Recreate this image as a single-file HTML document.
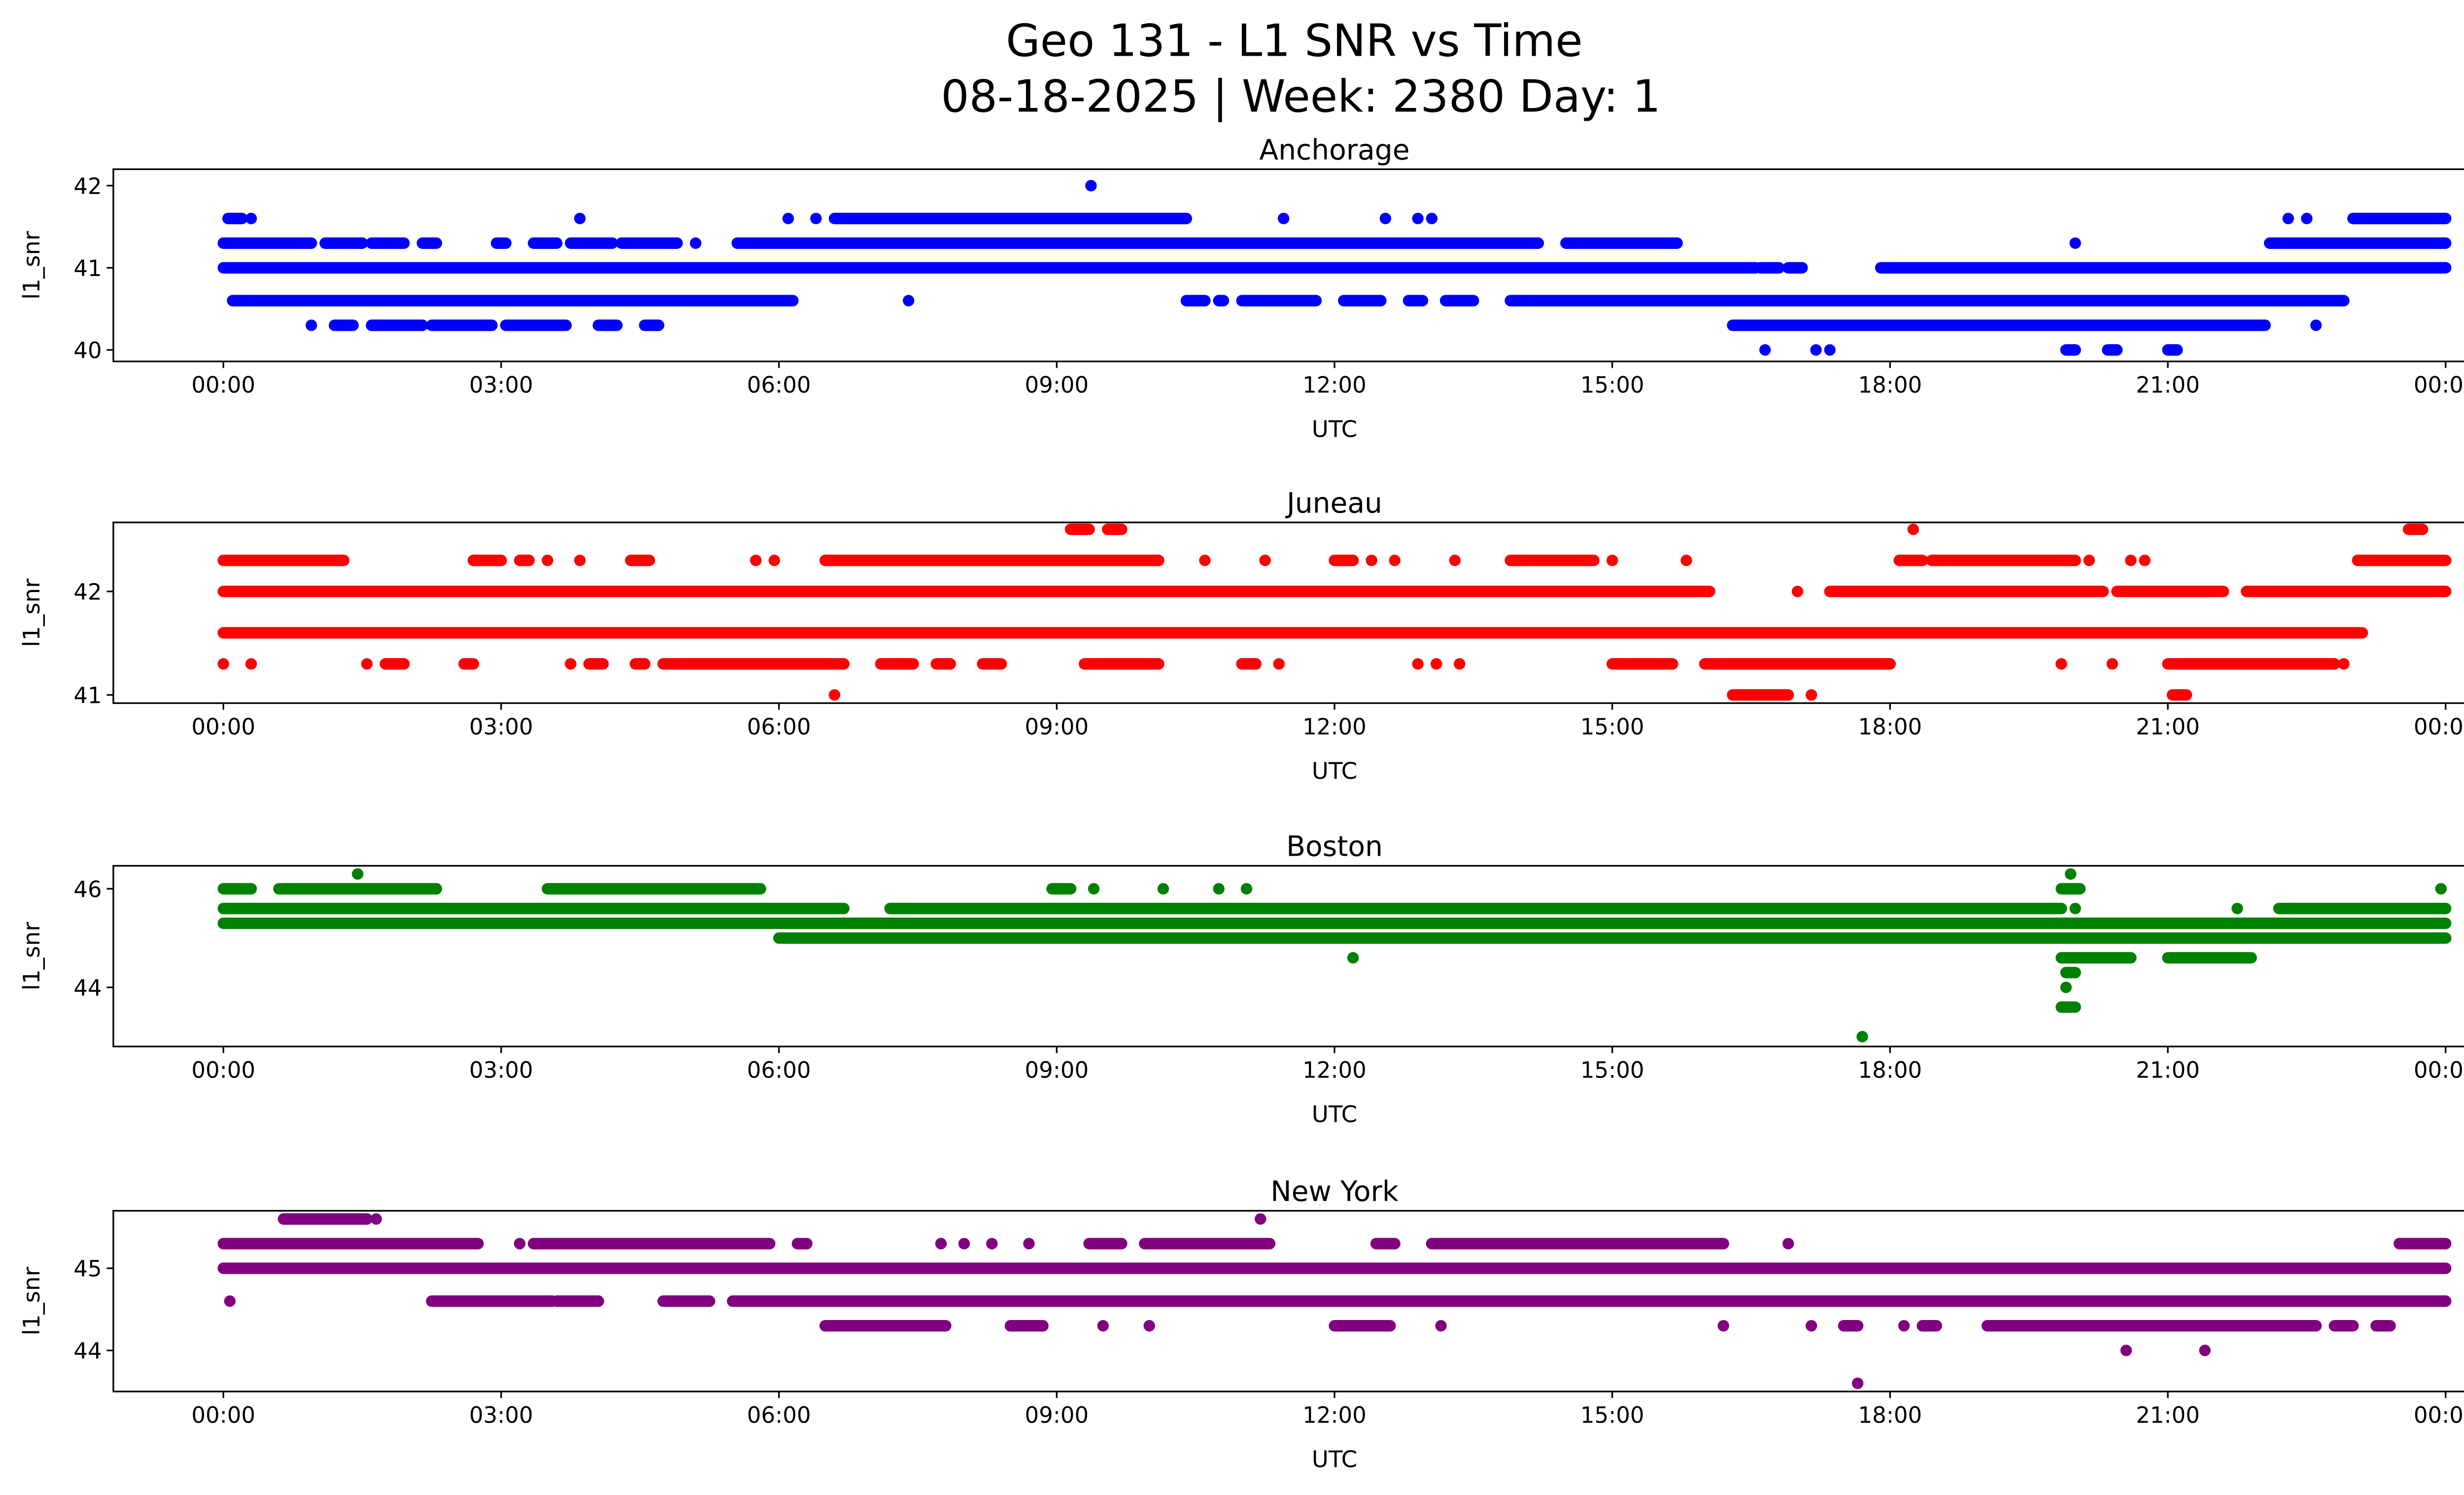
<!DOCTYPE html>
<html><head><meta charset="utf-8"><style>
html,body{margin:0;padding:0;background:#fff;width:5226px;height:3033px;overflow:hidden;}
svg{display:block;font-family:"DejaVu Sans","Liberation Sans",sans-serif;width:5226px;height:3033px;}
</style></head><body>
<svg id="fig" width="5226" height="3033" viewBox="0 0 1568 910" preserveAspectRatio="none" xmlns="http://www.w3.org/2000/svg">
<rect width="1568" height="910" fill="#fff"/>
<text x="788" y="34" font-size="27" text-anchor="middle">Geo 131 - L1 SNR vs Time</text>
<text x="792" y="68" font-size="27" text-anchor="middle">08-18-2025 | Week: 2380 Day: 1</text>
<g id="plots"></g>
</svg>
<script>
// Runs of dense samples: [startHour, endHour, snr]
const anchorageRuns = [
[0,16.55,41.0],[16.6,16.8,41.0],[16.9,17.05,41.0],[17.9,24,41.0],
[0,0.95,41.3],[1.1,1.5,41.3],[1.6,1.95,41.3],[2.15,2.3,41.3],[2.95,3.05,41.3],[3.35,3.6,41.3],[3.75,4.2,41.3],[4.3,4.9,41.3],[5.1,5.1,41.3],[5.55,14.2,41.3],[14.5,15.7,41.3],[20.0,20.0,41.3],[22.1,24,41.3],
[0.05,0.2,41.6],[0.3,0.3,41.6],[3.85,3.85,41.6],[6.1,6.1,41.6],[6.4,6.4,41.6],[6.6,10.4,41.6],[11.45,11.45,41.6],[12.55,12.55,41.6],[12.9,12.9,41.6],[13.05,13.05,41.6],[22.3,22.3,41.6],[22.5,22.5,41.6],[23.0,24,41.6],
[9.37,9.37,42.0],
[0.1,6.15,40.6],[7.4,7.4,40.6],[10.4,10.6,40.6],[10.75,10.8,40.6],[11.0,11.8,40.6],[12.1,12.5,40.6],[12.8,12.95,40.6],[13.2,13.5,40.6],[13.9,22.9,40.6],
[0.95,0.95,40.3],[1.2,1.4,40.3],[1.6,2.15,40.3],[2.25,2.9,40.3],[3.05,3.7,40.3],[4.05,4.25,40.3],[4.55,4.7,40.3],[16.3,22.05,40.3],[22.6,22.6,40.3],
[16.65,16.65,40.0],[17.2,17.2,40.0],[17.35,17.35,40.0],[19.9,20.0,40.0],[20.35,20.45,40.0],[21.0,21.1,40.0]
];
const juneauRuns = [
[0,16.05,42.0],[17.0,17.0,42.0],[17.35,20.3,42.0],[20.45,21.6,42.0],[21.85,24,42.0],
[0,14.1,41.6],[14.05,23.1,41.6],
[0,1.3,42.3],[2.7,3.0,42.3],[3.2,3.3,42.3],[3.5,3.5,42.3],[3.85,3.85,42.3],[4.4,4.6,42.3],[5.75,5.75,42.3],[5.95,5.95,42.3],[6.5,10.1,42.3],[10.6,10.6,42.3],[11.25,11.25,42.3],[12.0,12.2,42.3],[12.4,12.4,42.3],[12.65,12.65,42.3],[13.3,13.3,42.3],[13.9,14.8,42.3],[15.0,15.0,42.3],[15.8,15.8,42.3],[18.1,18.35,42.3],[18.45,20.0,42.3],[20.15,20.15,42.3],[20.6,20.6,42.3],[20.75,20.75,42.3],[23.05,24,42.3],
[9.15,9.35,42.6],[9.55,9.7,42.6],[18.25,18.25,42.6],[23.6,23.75,42.6],
[0,0,41.3],[0.3,0.3,41.3],[1.55,1.55,41.3],[1.75,1.95,41.3],[2.6,2.7,41.3],[3.75,3.75,41.3],[3.95,4.1,41.3],[4.45,4.55,41.3],[4.75,6.0,41.3],[6.0,6.7,41.3],[7.1,7.45,41.3],[7.7,7.85,41.3],[8.2,8.4,41.3],[9.3,10.1,41.3],[11.0,11.15,41.3],[11.4,11.4,41.3],[12.9,12.9,41.3],[13.1,13.1,41.3],[13.35,13.35,41.3],[15.0,15.65,41.3],[16.0,18.0,41.3],[19.85,19.85,41.3],[20.4,20.4,41.3],[21.0,22.8,41.3],[22.9,22.9,41.3],
[6.6,6.6,41.0],[16.3,16.9,41.0],[17.15,17.15,41.0],[21.05,21.2,41.0]
];
const bostonRuns = [
[0,24,45.3],[6.0,24,45.0],
[0,6.7,45.6],[7.2,19.85,45.6],[20.0,20.0,45.6],[21.75,21.75,45.6],[22.2,24,45.6],
[0,0.3,46.0],[0.6,2.3,46.0],[3.5,5.8,46.0],[8.95,9.15,46.0],[9.4,9.4,46.0],[10.15,10.15,46.0],[10.75,10.75,46.0],[11.05,11.05,46.0],[19.85,20.05,46.0],[23.95,23.95,46.0],
[1.45,1.45,46.3],[19.95,19.95,46.3],
[12.2,12.2,44.6],[19.85,20.6,44.6],[21.0,21.9,44.6],
[19.9,20.0,44.3],[19.9,19.9,44.0],[19.85,20.0,43.6],[17.7,17.7,43.0]
];
const newYorkRuns = [
[0,24,45.0],
[0,2.75,45.3],[3.2,3.2,45.3],[3.35,5.9,45.3],[6.2,6.3,45.3],[7.75,7.75,45.3],[8.0,8.0,45.3],[8.3,8.3,45.3],[8.7,8.7,45.3],[9.35,9.7,45.3],[9.95,11.3,45.3],[12.45,12.65,45.3],[13.05,16.2,45.3],[16.9,16.9,45.3],[23.5,24,45.3],
[0.65,1.55,45.6],[1.65,1.65,45.6],[11.2,11.2,45.6],
[0.07,0.07,44.6],[2.25,3.55,44.6],[3.6,4.05,44.6],[4.75,5.25,44.6],[5.5,24,44.6],
[6.5,7.8,44.3],[8.5,8.85,44.3],[9.5,9.5,44.3],[10.0,10.0,44.3],[12.0,12.6,44.3],[13.15,13.15,44.3],[16.2,16.2,44.3],[17.15,17.15,44.3],[17.5,17.65,44.3],[18.15,18.15,44.3],[18.35,18.5,44.3],[19.05,22.6,44.3],[22.8,23.0,44.3],[23.25,23.4,44.3],
[20.55,20.55,44.0],[21.4,21.4,44.0],[17.65,17.65,43.6]
];
const xTickHours = [0,3,6,9,12,15,18,21,24];
const xTickLabels = ["00:00","03:00","06:00","09:00","12:00","15:00","18:00","21:00","00:00"];
const panelTitles = ["Anchorage","Juneau","Boston","New York"];
const panelColors = ["#0000ff","#ff0000","#008000","#800080"];
const yTicks = [[40,41,42],[41,42],[44,46],[44,45]];

const panels = [
 {runs:anchorageRuns, top:103, bottom:220, yRef:[42,113,40,213]},
 {runs:juneauRuns, top:318, bottom:428, yRef:[42,360,41,423]},
 {runs:bostonRuns, top:527, bottom:637, yRef:[46,541,44,601]},
 {runs:newYorkRuns, top:737, bottom:847, yRef:[45,772,44,822]}
];
const NS="http://www.w3.org/2000/svg";
const g=document.getElementById('plots');
const L=69,R=1556;
function xs(h){return 136+h*(1489-136)/24;}
function mk(tag,attrs){const e=document.createElementNS(NS,tag);for(const k in attrs)e.setAttribute(k,attrs[k]);return e;}
panels.forEach((p,i)=>{
 const ys=v=>p.yRef[1]+(v-p.yRef[0])*(p.yRef[3]-p.yRef[1])/(p.yRef[2]-p.yRef[0]);
 const grp=mk('g',{});
 
 
 g.appendChild(grp);
 const t=mk('text',{x:(L+R)/2,y:p.top-6,'font-size':17,'text-anchor':'middle'});
 t.textContent=panelTitles[i];
 
 
 grp.appendChild(t);
 const series=mk('g',{stroke:panelColors[i],'stroke-width':7,'stroke-linecap':'round',fill:'none'});
 
 
 grp.appendChild(series);
 p.runs.forEach(r=>{
  const ln=mk('line',{x1:xs(r[0]),x2:xs(r[1])+0.01,y1:ys(r[2]),y2:ys(r[2])});
  
  
  series.appendChild(ln);
 });
 const frame=mk('rect',{x:L,y:p.top,width:R-L,height:p.bottom-p.top,fill:'none',stroke:'#000','stroke-width':1});
 
 
 grp.appendChild(frame);
 xTickHours.forEach((h,j)=>{
  const x=xs(h);
  grp.appendChild(mk('line',{x1:x,x2:x,y1:p.bottom,y2:p.bottom+4,stroke:'#000','stroke-width':1}));
  const tl=mk('text',{x:x,y:p.bottom+19,'font-size':13.5,'text-anchor':'middle'});
  tl.textContent=xTickLabels[j];
  
  
  grp.appendChild(tl);
 });
 yTicks[i].forEach(v=>{
  const y=ys(v);
  grp.appendChild(mk('line',{x1:L-4,x2:L,y1:y,y2:y,stroke:'#000','stroke-width':1}));
  const tl=mk('text',{x:L-7,y:y+5,'font-size':13.5,'text-anchor':'end'});
  tl.textContent=v;
  
  
  grp.appendChild(tl);
 });
 const xl=mk('text',{x:(L+R)/2,y:p.bottom+46,'font-size':14,'text-anchor':'middle'});
 xl.textContent='UTC';
 
 
 grp.appendChild(xl);
 const cy=(p.top+p.bottom)/2;
 const yl=mk('text',{x:24,y:cy,'font-size':14,'text-anchor':'middle',transform:'rotate(-90 24 '+cy+')'});
 yl.textContent='l1_snr';
 
 
 grp.appendChild(yl);
});
</script>
</body></html>
